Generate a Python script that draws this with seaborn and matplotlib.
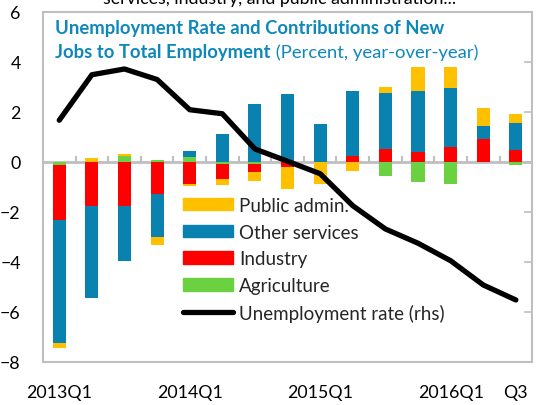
import numpy as np
import pandas as pd
import seaborn as sns
import matplotlib.pyplot as plt
from matplotlib.patches import Patch
from matplotlib.lines import Line2D

# dados (pontos percentuais, a/a)
trimestres = ["2013Q1", "2013Q2", "2013Q3", "2013Q4", "2014Q1", "2014Q2", "2014Q3", "2014Q4",
              "2015Q1", "2015Q2", "2015Q3", "2015Q4", "2016Q1", "2016Q2", "2016Q3"]
rotulos_x = ["2013Q1", "", "", "", "2014Q1", "", "", "", "2015Q1", "", "", "", "2016Q1", "", "Q3"]

agricultura = [-0.13, 0.0, 0.24, 0.09, 0.19, -0.10, -0.08, 0.05, 0.0, 0.0, -0.57, -0.80, -0.87, 0.0, -0.13]
industria = [-2.20, -1.75, -1.75, -1.30, -0.87, -0.60, -0.32, -0.20, 0.0, 0.24, 0.53, 0.40, 0.60, 0.91, 0.47]
outros_servicos = [-4.90, -3.70, -2.20, -1.72, 0.24, 1.13, 2.33, 2.65, 1.50, 2.60, 2.24, 2.44, 2.37, 0.52, 1.10]
adm_publica = [-0.20, 0.16, 0.07, -0.30, -0.08, -0.23, -0.37, -0.90, -0.87, -0.36, 0.23, 0.96, 0.83, 0.74, 0.36]
desemprego = [1.67, 3.49, 3.72, 3.30, 2.09, 1.93, 0.52, 0.03, -0.47, -1.75, -2.68, -3.25, -3.95, -4.92, -5.52]

nomes = ["Agriculture", "Industry", "Other services", "Public admin."]
cores = ["#6cd141", "#ff0000", "#0a82b0", "#ffc000"]
cinza = "#bfbfbf"
azul_titulo = "#0e88ba"

sns.set_theme(style="white")
plt.rcParams["font.family"] = ["Lato", "DejaVu Sans"]

fig = plt.figure(figsize=(5.37, 4.06), dpi=100)
ax = fig.add_axes([0.080, 0.106, 0.911, 0.862])

# empilhamento: partes positivas e negativas separadas, desenhando do acumulado maior para o menor
camadas = np.array([agricultura, industria, outros_servicos, adm_publica])
pos_acum = np.cumsum(np.clip(camadas, 0, None), axis=0)
neg_acum = np.cumsum(np.clip(camadas, None, 0), axis=0)

for k in range(len(nomes) - 1, -1, -1):
    for acum in (pos_acum, neg_acum):
        df = pd.DataFrame({"trimestre": trimestres, "valor": acum[k]})
        sns.barplot(data=df, x="trimestre", y="valor", color=cores[k], width=0.4,
                    saturation=1, errorbar=None, linewidth=0, ax=ax, zorder=2)

# linha zero com marcas entre as barras
ax.axhline(0, color=cinza, lw=2, zorder=1.5)
ax.vlines(np.arange(len(trimestres) - 1) + 0.5, 0, 0.25, color=cinza, lw=1.5, zorder=1.5)

sns.lineplot(x=np.arange(len(trimestres)), y=desemprego, color="black", lw=3.8,
             solid_capstyle="round", solid_joinstyle="round", ax=ax, zorder=4)

ax.set_xlim(-0.5, len(trimestres) - 0.5)
ax.set_ylim(-8, 6)
ax.set_yticks(range(-8, 7, 2))
ax.set_xticks(range(len(trimestres)))
ax.set_xticklabels(rotulos_x)
ax.set_xlabel("")
ax.set_ylabel("")
ax.tick_params(axis="x", length=0, pad=16, labelsize=12.8, colors="black")
ax.tick_params(axis="y", left=False, right=True, direction="in", length=6, width=1.2,
               color=cinza, pad=16, labelsize=12.8, labelleft=True, labelcolor="black")
for s in ax.spines.values():
    s.set_color(cinza)
    s.set_linewidth(1.5)

# titulo dentro do grafico
ax.text(0.025, 0.956, "Unemployment Rate and Contributions of New", transform=ax.transAxes,
        fontsize=13.3, fontweight="bold", color=azul_titulo, va="center", ha="left")
t2 = ax.text(0.025, 0.886, "Jobs to Total Employment", transform=ax.transAxes,
             fontsize=13.3, fontweight="bold", color=azul_titulo, va="center", ha="left")
ax.annotate(" (Percent, year-over-year)", xy=(1, 0.5), xycoords=t2, va="center", ha="left",
            fontsize=13.3, color=azul_titulo)

# texto cortado no topo (como no original)
fig.text(0.52, 1 - 4 / 406, "services, industry, and public administration...", ha="center",
         va="baseline", fontsize=12.8, color="black")

handles = [Patch(color=cores[3]), Patch(color=cores[2]), Patch(color=cores[1]), Patch(color=cores[0]),
           Line2D([0], [0], color="black", lw=3.8, solid_capstyle="round")]
labels = ["Public admin.", "Other services", "Industry", "Agriculture", "Unemployment rate (rhs)"]
leg = ax.legend(handles, labels, loc="upper left", bbox_to_anchor=(0.286, 0.472), frameon=False,
                fontsize=13.5, handlelength=2.7, handleheight=0.65, handletextpad=0.3,
                labelspacing=0.52, borderpad=0, borderaxespad=0)
leg.set_zorder(3)

plt.savefig("out.png", dpi=100)
